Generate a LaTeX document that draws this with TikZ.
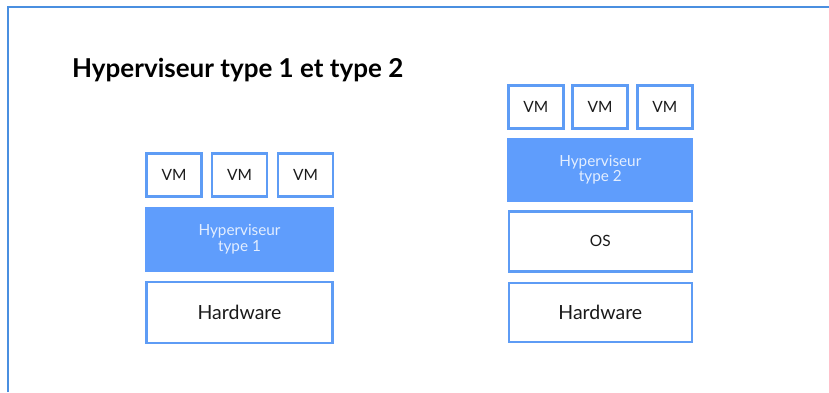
\documentclass[tikz,border=0pt]{standalone}
\usepackage{fontspec}
\setmainfont{Lato}
\definecolor{edge}{HTML}{5E9CF5}
\definecolor{fillb}{HTML}{5F9DFC}
\definecolor{frame}{HTML}{4A8FE0}
\definecolor{ink}{HTML}{1A1A1A}
\definecolor{pale}{HTML}{E3EEFF}
\tikzset{
  layer/.style={draw=edge, line width=2.6pt, fill=white, inner sep=0pt, text=ink},
  hyp/.style={fill=fillb, inner sep=0pt, text=pale, align=center, font=\fontsize{15.3}{15.5}\selectfont},
  vm/.style={layer, minimum width=55pt, minimum height=43pt, font=\fontsize{15.5}{15.5}\selectfont},
}
\begin{document}
\begin{tikzpicture}[x=1pt,y=-1pt]
\useasboundingbox (0,0) rectangle (829,392);
\fill[white] (0,0) rectangle (829,392);
% outer frame (only top and left edges inside the page)
\draw[frame, line width=2pt] (8,392) -- (8,7) -- (829,7);
% title
\node[anchor=base west, font=\fontsize{26}{26}\selectfont\bfseries, text=black, inner sep=0pt] (title) at (72,77) {Hyperviseur type 1 et type 2};
% type 1 stack
\node[vm] (v11) at (174,175) {VM};
\node[vm] (v12) at (239.5,175) {VM};
\node[vm] (v13) at (305.5,175) {VM};
\node[hyp, minimum width=189pt, minimum height=65pt] (h1) at (239.5,239.3) {Hyperviseur\\type 1};
\node[layer, minimum width=186pt, minimum height=61pt, font=\fontsize{19.5}{19.5}\selectfont] (hw1) at (239.5,312.3) {Hardware};
% type 2 stack
\node[vm] (v21) at (535.7,106.7) {VM};
\node[vm] (v22) at (600,106.7) {VM};
\node[vm] (v23) at (664.7,106.7) {VM};
\node[hyp, minimum width=186pt, minimum height=64pt] (h2) at (600.3,169.7) {Hyperviseur\\type 2};
\node[layer, minimum width=183pt, minimum height=60pt, font=\fontsize{15.5}{15.5}\selectfont] (os2) at (600.3,241.4) {OS};
\node[layer, minimum width=183pt, minimum height=59pt, font=\fontsize{19.5}{19.5}\selectfont] (hw2) at (600.3,312.5) {Hardware};
\end{tikzpicture}
\end{document}
